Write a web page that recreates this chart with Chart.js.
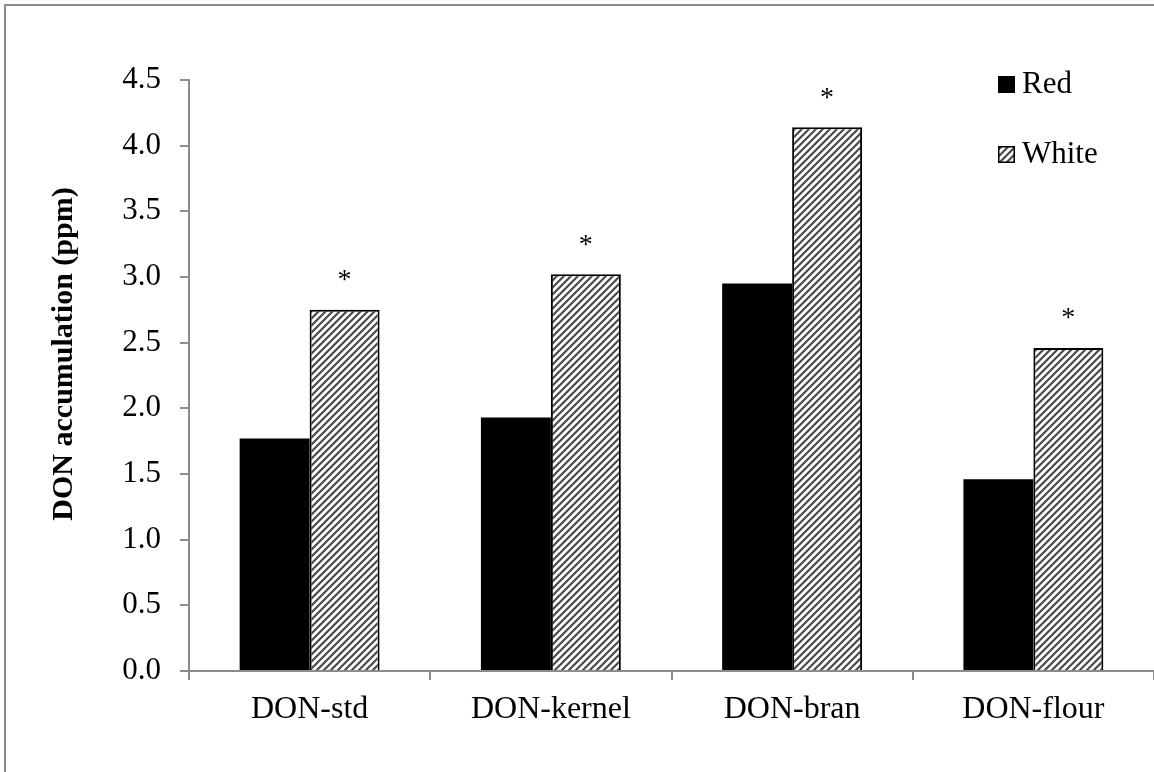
<!DOCTYPE html>
<html>
<head>
<meta charset="utf-8">
<script src="https://cdn.jsdelivr.net/npm/chart.js@4.4.1/dist/chart.umd.min.js"></script>
<style>
  html, body { margin: 0; padding: 0; background: #fff; }
  #wrap { position: relative; width: 1154px; height: 772px; overflow: hidden; }
  #frame { position: absolute; left: 4px; top: 4px; right: -10px; bottom: -10px;
    border-top: 2px solid #8c8c8c; border-left: 2px solid #8c8c8c; pointer-events: none; }
  canvas { position: absolute; left: 0; top: 0; }
</style>
</head>
<body>
<div id="wrap">
  <canvas id="c" width="1154" height="772"></canvas>
  <div id="frame"></div>
</div>
<script>
  // ---- data ----
  var CATEGORIES = ["DON-std", "DON-kernel", "DON-bran", "DON-flour"];
  var SERIES = ["Red", "White"];
  var RED = [1.77, 1.93, 2.95, 1.46];
  var WHITE = [2.75, 3.02, 4.14, 2.46];
  var SIG = ["*", "*", "*", "*"]; // marks over the White bars
  var Y_TITLE = "DON accumulation (ppm)";

  var FONT = "'Liberation Serif', 'Times New Roman', serif";
  var AXIS = "#8c8c8c";

  function hatch() {
    var s = 7, t = document.createElement("canvas");
    t.width = s; t.height = s;
    var g = t.getContext("2d");
    g.fillStyle = "#fff"; g.fillRect(0, 0, s, s);
    g.strokeStyle = "#4a4a4a"; g.lineWidth = 2.2;
    g.beginPath();
    g.moveTo(-1, s + 1); g.lineTo(s + 1, -1);
    g.moveTo(-1, 1); g.lineTo(1, -1);
    g.moveTo(s - 1, s + 1); g.lineTo(s + 1, s - 1);
    g.stroke();
    return g.createPattern(t, "repeat");
  }

  var ctx = document.getElementById("c").getContext("2d");
  var PAT = hatch();

  var stars = {
    id: "stars",
    afterDatasetsDraw: function (chart) {
      var meta = chart.getDatasetMeta(1), c = chart.ctx;
      c.save();
      c.fillStyle = "#000"; c.font = "28px " + FONT;
      c.textAlign = "center"; c.textBaseline = "middle";
      meta.data.forEach(function (bar, i) {
        if (SIG[i]) c.fillText(SIG[i], bar.x, bar.y - 29);
      });
      c.restore();
    }
  };

  // rotated y title, placed a little above the plot centre as in the figure
  var yTitle = {
    id: "yTitle",
    afterDraw: function (chart) {
      var c = chart.ctx;
      c.save();
      c.translate(64, 354);
      c.rotate(-Math.PI / 2);
      c.fillStyle = "#000"; c.font = "bold 30px " + FONT;
      c.textAlign = "center"; c.textBaseline = "middle";
      c.fillText(Y_TITLE, 0, 0);
      c.restore();
    }
  };

  var legendBox = {
    id: "legendBox",
    afterDraw: function (chart) {
      var c = chart.ctx, x = 998, ys = [84, 154];
      c.save();
      c.font = "31px " + FONT; c.textBaseline = "middle"; c.textAlign = "left";
      chart.data.datasets.forEach(function (ds, i) {
        var y = ys[i];
        c.fillStyle = ds.backgroundColor;
        c.fillRect(x, y - 8, 17, 17);
        if (i === 1) { c.strokeStyle = "#000"; c.lineWidth = 1.5; c.strokeRect(x + 0.75, y - 7.25, 15.5, 15.5); }
        c.fillStyle = "#000";
        c.fillText(ds.label, x + 24, y + 1);
      });
      c.restore();
    }
  };

  new Chart(ctx, {
    type: "bar",
    data: {
      labels: CATEGORIES,
      datasets: [
        { label: SERIES[0], data: RED, backgroundColor: "#000", borderWidth: 0 },
        { label: SERIES[1], data: WHITE, backgroundColor: PAT, borderColor: "#000", borderWidth: 2 }
      ]
    },
    options: {
      responsive: false, animation: false, devicePixelRatio: 1,
      categoryPercentage: 0.58, barPercentage: 1.0,
      layout: { padding: { top: 80, right: 0, bottom: 0, left: 0 } },
      plugins: { legend: { display: false }, tooltip: { enabled: false } },
      scales: {
        x: {
          offset: true,
          grid: { offset: true, drawOnChartArea: false, color: AXIS, lineWidth: 2, tickLength: 9 },
          border: { color: AXIS, width: 2 },
          ticks: { color: "#000", font: { family: FONT, size: 32 }, padding: 10, maxRotation: 0 },
          afterFit: function (s) { s.height = 101; }
        },
        y: {
          min: 0, max: 4.5,
          grid: { drawOnChartArea: false, color: AXIS, lineWidth: 2, tickLength: 9 },
          border: { color: AXIS, width: 2 },
          ticks: { stepSize: 0.5, color: "#000", font: { family: FONT, size: 31 }, padding: 19,
            callback: function (v) { return Number(v).toFixed(1); } },
          afterFit: function (s) { s.width = 189; }
        }
      }
    },
    plugins: [stars, yTitle, legendBox]
  });
</script>
</body>
</html>
